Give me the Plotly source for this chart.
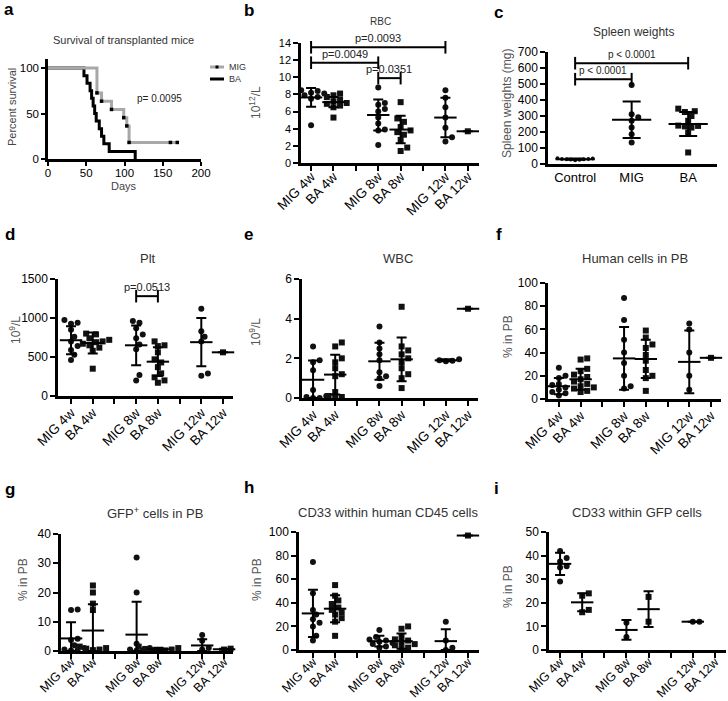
import plotly.graph_objects as go

W, H = 728, 701
FONT = "Liberation Sans, Arial, sans-serif"

# ---------------- data ----------------
# (a) survival
mig_days = [0, 64, 70, 83, 99, 103, 106, 169]
mig_surv = [100, 72.7, 63.6, 54.5, 45.5, 36.4, 18.2, 18.2]
mig_censored_days = [160, 169]
ba_days = [0, 47, 51, 55, 57, 59, 61, 63, 67, 70, 73, 80, 114]
ba_surv = [100, 91.7, 83.3, 75, 66.7, 58.3, 50, 41.7, 33.3, 25, 16.7, 8.3, 0]
surv_p = "p= 0.0095"

slot_labels = ["MIG 4w", "BA 4w", "", "MIG 8w", "BA 8w", "", "MIG 12w", "BA 12w"]
groups = ["MIG 4w", "BA 4w", "MIG 8w", "BA 8w", "MIG 12w", "BA 12w"]

# (b) RBC
rbc_points = [[8.6, 8.5, 8.4, 8.2, 8.1, 7.9, 7.7, 7.5, 4.4],
              [8.1, 7.9, 7.7, 7.4, 7.2, 7.0, 6.9, 6.7, 6.5, 5.3],
              [8.8, 7.0, 6.8, 6.3, 6.0, 5.3, 4.6, 3.9, 3.8, 2.1],
              [7.1, 5.2, 4.8, 4.2, 3.8, 3.6, 3.3, 2.7, 1.8, 1.4],
              [8.5, 7.6, 6.5, 5.3, 4.1, 3.0, 2.5],
              [3.7]]
rbc_mean = [7.65, 7.1, 5.6, 3.9, 5.3, 3.7]
rbc_sd = [1.1, 0.6, 1.8, 1.6, 2.3, 0]
rbc_sig_from = ["MIG 4w", "MIG 4w", "MIG 8w"]
rbc_sig_to = ["MIG 12w", "MIG 8w", "BA 8w"]
rbc_sig_y = [13.5, 11.7, 9.9]
rbc_sig_p = ["p=0.0093", "p=0.0049", "p=0.0351"]

# (c) spleen weights
spleen_groups = ["Control", "MIG", "BA"]
spleen_points = [[24, 26, 28, 29, 30, 31, 32, 34, 36],
                 [493, 311, 292, 270, 228, 186, 135],
                 [346, 330, 325, 300, 270, 240, 238, 235, 228, 197, 72]]
spleen_mean = [30, 276, 250]
spleen_sd = [4, 114, 75]
spleen_sig_from = ["Control", "Control"]
spleen_sig_to = ["BA", "MIG"]
spleen_sig_y = [630, 530]
spleen_sig_p = ["p < 0.0001", "p < 0.0001"]

# (d) Plt
plt_points = [[975, 940, 925, 850, 760, 700, 640, 590, 530, 460],
              [800, 790, 740, 720, 700, 690, 670, 650, 620, 580, 350],
              [960, 940, 870, 790, 740, 660, 600, 270, 200],
              [700, 650, 640, 560, 470, 430, 370, 290, 240, 200, 170],
              [1120, 830, 760, 700, 290, 260],
              [560]]
plt_mean = [715, 680, 650, 440, 690, 560]
plt_sd = [180, 135, 255, 185, 310, 0]
plt_sig_from = ["MIG 8w"]
plt_sig_to = ["BA 8w"]
plt_sig_y = [1280]
plt_sig_p = ["p=0.0513"]

# (e) WBC
wbc_points = [[2.6, 1.9, 1.8, 1.4, 0.4, 0.1, 0.05, 0.0, 0.0],
              [2.8, 2.6, 2.0, 1.8, 1.5, 1.2, 1.1, 0.3, 0.1, 0.05, 0.0],
              [3.6, 2.8, 2.5, 2.2, 1.9, 1.3, 1.1, 1.0, 0.6],
              [4.6, 2.6, 2.4, 2.2, 2.0, 1.8, 1.5, 1.2, 1.0, 0.5],
              [1.95, 1.9, 1.88, 1.85],
              [4.5]]
wbc_mean = [0.92, 1.18, 1.85, 1.95, 1.9, 4.5]
wbc_sd = [0.97, 1.0, 0.93, 1.1, 0.05, 0]

# (f) human cells in PB
hum_points = [[27, 20, 18, 13, 12, 10, 8, 6, 5, 3],
              [35, 34, 26, 24, 21, 19, 17, 15, 13, 11, 10, 9, 7, 6],
              [87, 68, 51, 40, 31, 20, 11, 9],
              [59, 53, 47, 44, 38, 33, 25, 20, 18, 7],
              [65, 60, 40, 20, 8],
              [35.5]]
hum_mean = [11, 17, 35, 34.5, 32, 35.5]
hum_sd = [7, 9, 27, 16.5, 27, 0]

# (g) GFP+ cells in PB
gfp_points = [[14.2, 14.0, 4.2, 3.8, 2.0, 1.0, 0.5, 0.3, 0.2],
              [22.4, 20.0, 16.2, 14.0, 1.5, 1.0, 0.8, 0.5, 0.3],
              [32, 20, 2.5, 1.0, 0.5, 0.3, 0.2],
              [1.5, 1.0, 0.7, 0.5, 0.3, 0.2, 0.1],
              [5.5, 3.5, 1.0, 0.5],
              [0.8, 0.5]]
gfp_mean = [4.3, 7.0, 5.6, 0.6, 1.9, 0.6]
gfp_sd = [5.5, 9.0, 11.2, 0.5, 2.1, 0.2]

# (h) CD33 within human CD45 cells
cd45_points = [[74.6, 48, 34, 30, 26, 23, 20, 12, 8],
               [55, 46, 42, 39, 36, 34, 32, 30, 27, 24, 12],
               [17, 11, 9, 8, 7, 6, 5, 3, 2],
               [20, 18, 11, 9, 8, 6, 5, 4, 2, 1],
               [24, 8, 2, 0],
               [97]]
cd45_mean = [31, 35, 7.5, 7.5, 7.5, 97]
cd45_sd = [20, 11.5, 4.5, 6.5, 10, 0]

# (i) CD33 within GFP cells
cd33g_points = [[42, 39, 37.5, 35.5, 35, 29],
                [24, 23, 17, 16],
                [11.5, 5.5],
                [22.5, 12],
                [12, 12],
                []]
cd33g_mean = [36.5, 20.2, 8.5, 17.3, 12, None]
cd33g_sd = [4.7, 3.8, 4.2, 7.6, 0, None]

# ---------------- helpers ----------------
def fx(px):
    return px / W


def fy(py):
    return 1 - py / H


def ax_keys(n):
    s = "" if n == 1 else str(n)
    return "xaxis" + s, "yaxis" + s, "x" + s, "y" + s


def swarm(vals, ppu_y, ppx, diam):
    placed = []
    offs = [0.0] * len(vals)
    order = sorted(range(len(vals)), key=lambda i: vals[i])
    step = diam * 0.55
    ks = [0]
    for k in range(1, 40):
        ks += [k, -k]
    for i in order:
        yy = vals[i] * ppu_y
        xx = 0.0
        for k in ks:
            xx = k * step
            if all((xx - a) ** 2 + (yy - b) ** 2 >= (diam * 0.95) ** 2 for a, b in placed):
                break
        placed.append((xx, yy))
        offs[i] = xx / ppx
    return offs


def axis_style(size=12):
    return dict(showline=True, linecolor="black", linewidth=2.5, ticks="outside",
                ticklen=5, tickwidth=2, tickcolor="black", showgrid=False,
                zeroline=False, fixedrange=True, automargin=False,
                tickfont=dict(size=size, color="black", family=FONT))


fig = go.Figure()
layout = {}
annotations = []
shapes = []


def text(x, y, s, size, color="#333", angle=0, xanchor="center", bold=False, family=FONT):
    annotations.append(dict(x=fx(x), y=fy(y), xref="paper", yref="paper", text=("<b>%s</b>" % s) if bold else s,
                            showarrow=False, textangle=angle, xanchor=xanchor, yanchor="middle",
                            font=dict(size=size, color=color, family=family)))


# ---------------- panel a ----------------
xa, ya, xr, yr = ax_keys(1)
fig.add_trace(go.Scatter(x=ba_days, y=ba_surv, mode="lines", xaxis=xr, yaxis=yr,
                         line=dict(color="black", width=3, shape="hv"), showlegend=False))
fig.add_trace(go.Scatter(x=mig_days, y=mig_surv, mode="lines", xaxis=xr, yaxis=yr,
                         line=dict(color="#a8a8a8", width=3, shape="hv"), showlegend=False))
mk_x = mig_days[1:-1] + mig_censored_days
mk_y = mig_surv[1:-1] + [mig_surv[-1]] * len(mig_censored_days)
fig.add_trace(go.Scatter(x=mk_x, y=mk_y, mode="markers", xaxis=xr, yaxis=yr, cliponaxis=False,
                         marker=dict(symbol="square", size=3.5, color="black"), showlegend=False))
layout[xa] = dict(axis_style(11.5), domain=[fx(48), fx(201)], range=[0, 200], anchor=yr,
                  tickvals=[0, 50, 100, 150, 200], ticklen=4, ticklabelstandoff=-3)
layout[ya] = dict(axis_style(11.5), domain=[fy(159), fy(59)], range=[0, 110], anchor=xr,
                  tickvals=[0, 50, 100], ticklen=4)
text(123, 40, "Survival of transplanted mice", 11)
text(124, 186, "Days", 11, color="#444")
text(12, 107, "Percent survival", 11, color="#444", angle=-90)
text(159, 98, surv_p, 10, color="#222")
# legend
shapes.append(dict(type="line", xref="paper", yref="paper", x0=fx(210), x1=fx(224), y0=fy(67), y1=fy(67),
                   line=dict(color="#a8a8a8", width=3)))
shapes.append(dict(type="rect", xref="paper", yref="paper", x0=fx(215.5), x1=fx(218.5), y0=fy(68.5), y1=fy(65.5),
                   line=dict(width=0), fillcolor="black"))
shapes.append(dict(type="line", xref="paper", yref="paper", x0=fx(210), x1=fx(224), y0=fy(79), y1=fy(79),
                   line=dict(color="black", width=3)))
text(227, 67, "MIG", 9, color="#333", xanchor="left")
text(227, 79, "BA", 9, color="#333", xanchor="left")

# ---------------- scatter panels ----------------
panels = [
    dict(n=2, pts=rbc_points, mean=rbc_mean, sd=rbc_sd, cats=groups, slots=slot_labels,
         box=(301, 479, 43, 163), xr=[-0.45, 7.5], ymax=14, dtick=2, ytf=11, so=-7, xtf=13.5,
         title="RBC", tfs=10, txy=(380, 22), ylab="10<sup>12</sup>/L", lxy=(255, 102),
         sig=(rbc_sig_from, rbc_sig_to, rbc_sig_y, rbc_sig_p), sigfs=11),
    dict(n=3, pts=spleen_points, mean=spleen_mean, sd=spleen_sd, cats=spleen_groups, slots=spleen_groups,
         box=(548, 717, 52, 164), xr=[-0.48, 2.51], ymax=700, dtick=100, ytf=12, so=0, xtf=13,
         title="Spleen weights", tfs=12, txy=(633, 32), ylab="Spleen weights (mg)", lxy=(507, 104),
         sig=(spleen_sig_from, spleen_sig_to, spleen_sig_y, spleen_sig_p), sigfs=10),
    dict(n=4, pts=plt_points, mean=plt_mean, sd=plt_sd, cats=groups, slots=slot_labels,
         box=(58, 233, 279, 396), xr=[-0.6, 7.46], ymax=1500, dtick=500, ytf=12, so=-4, xtf=13.5,
         title="Plt", tfs=13, txy=(148, 258), ylab="10<sup>9</sup>/L", lxy=(15, 330),
         sig=(plt_sig_from, plt_sig_to, plt_sig_y, plt_sig_p), sigfs=11),
    dict(n=5, pts=wbc_points, mean=wbc_mean, sd=wbc_sd, cats=groups, slots=slot_labels,
         box=(302, 478, 279, 398), xr=[-0.5, 7.45], ymax=6, dtick=2, ytf=12, so=-4, xtf=13.5,
         title="WBC", tfs=13, txy=(398, 258), ylab="10<sup>9</sup>/L", lxy=(255, 332), sig=None),
    dict(n=6, pts=hum_points, mean=hum_mean, sd=hum_sd, cats=groups, slots=slot_labels,
         box=(548, 721, 283, 399), xr=[-0.5, 7.46], ymax=100, dtick=20, ytf=12, so=-4, xtf=13.5,
         title="Human cells in PB", tfs=13, txy=(635, 258), ylab="% in PB", lxy=(508, 337), sig=None),
    dict(n=7, pts=gfp_points, mean=gfp_mean, sd=gfp_sd, cats=groups, slots=slot_labels,
         box=(61, 233, 534, 651), xr=[-0.46, 7.41], ymax=40, dtick=10, ytf=12, so=-9, xtf=12.5,
         title="GFP<sup>+</sup> cells in PB", tfs=13, txy=(155, 513), ylab="% in PB", lxy=(23, 580), sig=None),
    dict(n=8, pts=cd45_points, mean=cd45_mean, sd=cd45_sd, cats=groups, slots=slot_labels,
         box=(299, 479, 532, 650), xr=[-0.63, 7.5], ymax=100, dtick=20, ytf=12, so=-8, xtf=12.5,
         title="CD33 within human CD45 cells", tfs=13, txy=(388, 512), ylab="% in PB", lxy=(257, 580), sig=None),
    dict(n=9, pts=cd33g_points, mean=cd33g_mean, sd=cd33g_sd, cats=groups, slots=slot_labels,
         box=(549, 726, 532, 650), xr=[-0.5, 7.5], ymax=50, dtick=10, ytf=12, so=-8, xtf=12.5,
         title="CD33 within GFP cells", tfs=13, txy=(637, 512), ylab="% in PB", lxy=(508, 587), sig=None),
]

for p in panels:
    xa, ya, xr, yr = ax_keys(p["n"])
    left, right, top, bottom = p["box"]
    slots = p["slots"]
    ppu_y = (bottom - top) / p["ymax"]
    ppx = (right - left) / (p["xr"][1] - p["xr"][0])
    is_c = p["n"] == 3
    ex_x, ex_y, ex_hi, ex_lo = [], [], [], []
    for gi, name in enumerate(p["cats"]):
        slot = slots.index(name)
        vals = p["pts"][gi]
        if vals:
            small = name == "Control"
            diam = 4 if small else 6
            offs = swarm(vals, ppu_y, ppx, diam)
            sym = "square" if name.startswith("BA") else "circle"
            fig.add_trace(go.Scatter(x=[slot + o for o in offs], y=vals, mode="markers",
                                     xaxis=xr, yaxis=yr, cliponaxis=False, showlegend=False,
                                     marker=dict(symbol=sym, size=diam, color="#111", line=dict(width=0))))
        m = p["mean"][gi]
        if m is not None:
            s = p["sd"][gi]
            ex_x.append(slot)
            ex_y.append(m)
            ex_hi.append(s)
            ex_lo.append(min(s, m))
    fig.add_trace(go.Scatter(x=ex_x, y=ex_y, mode="markers", xaxis=xr, yaxis=yr, cliponaxis=False,
                             showlegend=False,
                             marker=dict(symbol="line-ew", size=28 if is_c else 16, color="black",
                                         line=dict(width=2, color="black")),
                             error_y=dict(type="data", symmetric=False, array=ex_hi, arrayminus=ex_lo,
                                          width=9 if is_c else 5, thickness=2, color="black")))
    if p["sig"]:
        for f_, t_, yv, ptxt in zip(*p["sig"]):
            x1, x2 = slots.index(f_), slots.index(t_)
            fig.add_trace(go.Scatter(x=[x1, x2], y=[yv, yv], mode="lines+markers", xaxis=xr, yaxis=yr,
                                     cliponaxis=False, showlegend=False,
                                     line=dict(color="black", width=2),
                                     marker=dict(symbol="line-ns", size=9, color="black",
                                                 line=dict(width=2, color="black"))))
            annotations.append(dict(x=(x1 + x2) / 2, y=yv, xref=xr, yref=yr, text=ptxt, showarrow=False,
                                    yanchor="bottom", yshift=1,
                                    font=dict(size=p["sigfs"], color="#222", family=FONT)))
    labeled = [i for i, s in enumerate(slots) if s]
    gaps = [i for i, s in enumerate(slots) if not s]
    xstyle = axis_style(p["xtf"])
    if is_c:
        xstyle.update(tickvals=labeled, ticktext=[slots[i] for i in labeled], ticks="", tickangle=0)
    else:
        xstyle.update(tickvals=labeled, ticktext=[slots[i] for i in labeled], tickangle=-45,
                      ticklabelstandoff=p["so"],
                      minor=dict(tickvals=gaps, ticks="outside", ticklen=5, tickwidth=2, tickcolor="black"))
    layout[xa] = dict(xstyle, domain=[fx(left), fx(right)], range=p["xr"], anchor=yr)
    layout[ya] = dict(axis_style(p["ytf"]), domain=[fy(bottom), fy(top)], range=[0, p["ymax"]],
                      dtick=p["dtick"], tick0=0, anchor=xr)
    text(p["txy"][0], p["txy"][1], p["title"], p["tfs"])
    text(p["lxy"][0], p["lxy"][1], p["ylab"], 12, color="#555", angle=-90)

# panel letters
for lab, x, y in [("a", 2, 10), ("b", 242, 11), ("c", 492, 12), ("d", 3, 235), ("e", 242, 235),
                  ("f", 494, 234), ("g", 3, 489), ("h", 242, 487), ("i", 492, 488)]:
    text(x, y, lab, 17, color="black", xanchor="left", bold=True)

fig.update_layout(template="none", width=W, height=H, margin=dict(l=0, r=0, t=0, b=0, pad=0),
                  paper_bgcolor="white", plot_bgcolor="white", showlegend=False,
                  font=dict(family=FONT), annotations=annotations, shapes=shapes, **layout)
fig.write_html("out.html", config={"displayModeBar": False},
               post_script="document.body.style.margin='0';document.body.style.overflow='hidden';")
